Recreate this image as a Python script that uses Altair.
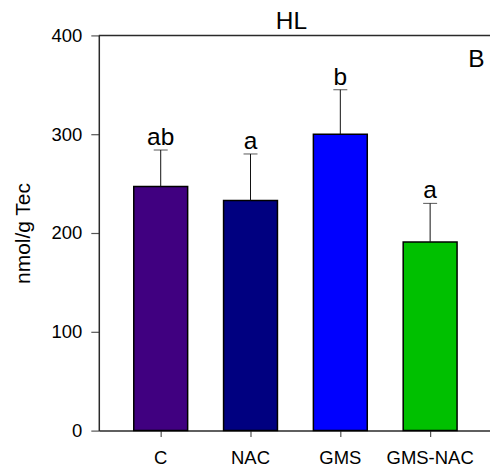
import altair as alt
import pandas as pd

# Group means (nmol/g tissue), upward SD bars and significance letters
groups = ["C", "NAC", "GMS", "GMS-NAC"]
means = [247, 233, 300, 191]
errors = [37, 47, 45, 39]
letters = ["ab", "a", "b", "a"]
colors = ["#400080", "#000080", "#0000FF", "#00C000"]

df = pd.DataFrame({"group": groups, "mean": means, "err": errors, "letter": letters})
df["upper"] = df["mean"] + df["err"]

FONT = "Liberation Sans"
W, H = 392, 396
AXIS_COLOR = "#2a2a2a"

x_enc = alt.X(
    "group:N",
    sort=groups,
    scale=alt.Scale(paddingInner=0.4, paddingOuter=0.378, align=0.515),
    axis=alt.Axis(
        title=None,
        labelAngle=0,
        tickSize=6,
        labelPadding=12,
        labelFontSize=18.5,
        labelFont=FONT,
        labelColor="black",
        domainColor=AXIS_COLOR,
        domainWidth=1.5,
        tickColor="#555555",
        tickWidth=1.2,
    ),
)
y_enc = alt.Y(
    "mean:Q",
    scale=alt.Scale(domain=[0, 400], nice=False),
    axis=alt.Axis(
        title="nmol/g Tec",
        values=[0, 100, 200, 300, 400],
        grid=False,
        tickSize=8,
        labelPadding=9,
        labelFontSize=18.5,
        labelFont=FONT,
        labelColor="black",
        titleFont=FONT,
        titleFontSize=21,
        titleFontWeight="normal",
        titleColor="black",
        titlePadding=18,
        domainColor=AXIS_COLOR,
        domainWidth=1.5,
        tickColor="#555555",
        tickWidth=1.2,
    ),
)

base = alt.Chart(df)

bars = base.mark_bar(stroke="black", strokeWidth=1.5).encode(
    x=x_enc,
    y=y_enc,
    color=alt.Color("group:N", scale=alt.Scale(domain=groups, range=colors), legend=None),
)

whiskers = base.mark_rule(color="#111111", strokeWidth=1).encode(
    x=alt.X("group:N", sort=groups),
    y="mean:Q",
    y2="upper:Q",
)

caps = base.mark_tick(color="#111111", size=14, thickness=1).encode(
    x=alt.X("group:N", sort=groups),
    y="upper:Q",
)

sig = base.mark_text(font=FONT, fontSize=24.5, baseline="alphabetic", dy=-5, color="black").encode(
    x=alt.X("group:N", sort=groups),
    y="upper:Q",
    text="letter:N",
)

# top frame line of the panel
frame_top = alt.Chart(pd.DataFrame({"v": [400]})).mark_rule(
    color=AXIS_COLOR, strokeWidth=1.5
).encode(y="v:Q")

headings = pd.DataFrame({"t": ["HL"]})
title_mark = alt.Chart(headings).mark_text(
    font=FONT, fontSize=24.5, align="center", baseline="alphabetic", color="black"
).encode(x=alt.value(193), y=alt.value(-6), text="t:N")

panel_tag = alt.Chart(pd.DataFrame({"t": ["B"]})).mark_text(
    font=FONT, fontSize=24.5, align="center", baseline="alphabetic", color="black"
).encode(x=alt.value(378.5), y=alt.value(31.7), text="t:N")

chart = (
    alt.layer(bars, whiskers, caps, sig, frame_top, title_mark, panel_tag)
    .properties(
        width=W,
        height=H,
        autosize=alt.AutoSizeParams(type="none"),
        padding={"left": 99, "top": 35, "right": 0, "bottom": 43},
    )
    .configure_view(stroke=None)
)

chart.save("out.html", embed_options={"renderer": "svg", "actions": False})
